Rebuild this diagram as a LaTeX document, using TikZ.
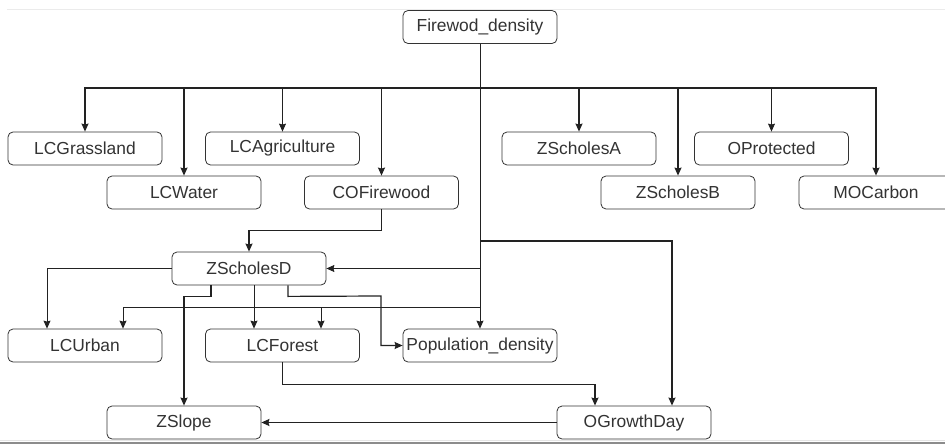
\documentclass[tikz,border=0pt]{standalone}
\usepackage{fontspec}
\setmainfont{Liberation Sans}
\usetikzlibrary{arrows.meta}
\definecolor{ink}{HTML}{333333}
\definecolor{edge}{HTML}{222222}
\tikzset{
  box/.style={draw=ink, line width=0.8pt, rounded corners=5pt, minimum width=154pt, minimum height=33pt, inner sep=0pt, text=ink, font=\fontsize{17.4pt}{20pt}\selectfont},
  arr/.style={draw=edge, line width=1.2pt, -{Stealth[length=8pt,width=7pt,inset=1pt]}},
  tarr/.style={draw=edge, line width=0.8pt, -{Stealth[length=8pt,width=7pt,inset=1pt]}},
  tline/.style={draw=edge, line width=0.8pt}
}
\begin{document}
\begin{tikzpicture}[x=1pt,y=-1pt]
\useasboundingbox (0,0) rectangle (945,444);
\clip (0,0) rectangle (945,444);
\fill[white] (0,0) rectangle (945,444);
\draw[color=black!8, line width=1pt] (7,10) -- (945,10);
\fill[black!45] (0,442) rectangle (945,444);
\draw[color=black!10, line width=1pt] (0,440.5) -- (945,440.5);

\node[box] (fd) at (480,27) {Firewod\_density};
\node[box] (lcg) at (85,148.5) {LCGrassland};
\node[box] (lca) at (282.5,148.5) {LCAgriculture};
\node[box] (zsa) at (579,148.5) {ZScholesA};
\node[box] (opr) at (771.5,148.5) {OProtected};
\node[box] (lcw) at (184,192.5) {LCWater};
\node[box] (cof) at (381.5,192.5) {COFirewood};
\node[box] (zsb) at (678,192.5) {ZScholesB};
\node[box] (moc) at (876,192.5) {MOCarbon};
\node[box] (zsd) at (249,268.5) {ZScholesD};
\node[box] (lcu) at (85,345.5) {LCUrban};
\node[box] (lcf) at (282.5,345.5) {LCForest};
\node[box] (pd) at (480,345.5) {Population\_density};
\node[box] (zsl) at (184,422.5) {ZSlope};
\node[box] (ogd) at (634,422.5) {OGrowthDay};

\coordinate (bus) at (480,88);
\coordinate (jA) at (480,241);
\coordinate (jB) at (480,307);

% Firewod_density fan-out
\draw[tline] (fd.south) -- (bus);
\draw[arr] (bus) -| (lcg.north);
\draw[arr] (bus) -| (lcw.north);
\draw[tarr] (bus) -| (lca.north);
\draw[arr] (bus) -| (cof.north);
\draw[arr] (bus) -| (zsa.north);
\draw[arr] (bus) -| (zsb.north);
\draw[tarr] (bus) -| (opr.north);
\draw[arr] (bus) -| (moc.north);
\draw[tarr] (bus) -- (pd.north);
\draw[arr] (jA) -| ([xshift=38pt]ogd.north);
\draw[tarr] (fd.south |- zsd.east) -- (zsd.east);
\draw[tarr] (jB) -| ([xshift=38pt]lcu.north);
\draw[tarr] (jB) -| ([xshift=38.5pt]lcf.north);

% COFirewood -> ZScholesD
\draw[arr] (cof.south) -- ++(0,21) -| (zsd.north);

% ZScholesD out-edges
\draw[tarr] (zsd.west) -| ([xshift=-38pt]lcu.north);
\draw[arr] ([xshift=-38pt]zsd.south) -- ++(0,11) -| (zsl.north);
\draw[tarr] ([xshift=5pt]zsd.south) -- ([xshift=5pt]zsd.south |- lcf.north);
\draw[arr] ([xshift=39pt]zsd.south) -- ++(0,11) -- (381,296) |- (pd.west);

% LCForest -> OGrowthDay
\draw[arr] (lcf.south) -- ++(0,22) -| ([xshift=-39pt]ogd.north);

% OGrowthDay -> ZSlope
\draw[arr] (ogd.west) -- (zsl.east);
\end{tikzpicture}
\end{document}
